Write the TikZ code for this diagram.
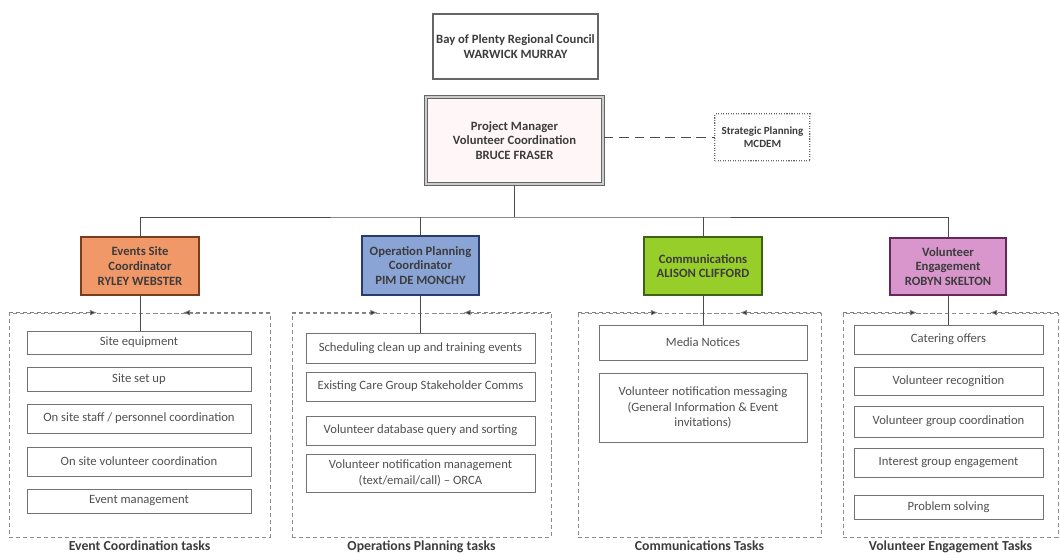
\documentclass[tikz,border=0pt]{standalone}
\usepackage{fontspec}
\setmainfont{Carlito}
\usetikzlibrary{arrows.meta,positioning,calc}
\definecolor{orgink}{RGB}{60,60,60}
\definecolor{taskink}{RGB}{80,80,80}
\definecolor{evfill}{RGB}{240,152,104}
\definecolor{evline}{RGB}{120,60,30}
\definecolor{opfill}{RGB}{138,164,214}
\definecolor{opline}{RGB}{40,60,110}
\definecolor{cmfill}{RGB}{152,206,42}
\definecolor{cmline}{RGB}{60,100,20}
\definecolor{vefill}{RGB}{216,150,204}
\definecolor{veline}{RGB}{100,40,90}
\tikzset{
  >=Latex,
  headbox/.style={
    rectangle, draw=black!60, line width=0.8pt, fill=white,
    align=center, inner sep=2pt, text=orgink,
    font=\fontsize{9}{10.5}\selectfont\bfseries
  },
  leadbox/.style={
    headbox, draw=evline, line width=1pt
  },
  taskbox/.style={
    rectangle, draw=black!55, line width=0.5pt, fill=white,
    align=center, inner sep=2pt, text=taskink,
    font=\fontsize{9}{11}\selectfont
  },
  group/.style={
    rectangle, draw=black!45, densely dashed, line width=0.5pt,
    inner sep=0pt
  },
  grouparrow/.style={-{Latex[length=5pt,width=4pt,fill=black!80]}, densely dashed, draw=black!50, line width=0.5pt},
  grouplabel/.style={
    inner sep=1pt, text=orgink, font=\fontsize{9.8}{11}\selectfont\bfseries
  },
  link/.style={draw=black!70, line width=0.7pt},
}
\begin{document}
\begin{tikzpicture}[x=0.025cm,y=-0.025cm]
\useasboundingbox (0,0) rectangle (1060,554);
% --- Top of the chart ---
\node[headbox, minimum width=4.125cm, minimum height=1.625cm] (bop) at (515.5,46.5)
  {Bay of Plenty Regional Council\\WARWICK MURRAY};
\node[headbox, double=black!20, double distance=0.8pt, fill=red!3,
  minimum width=4.425cm, minimum height=2.175cm] (pm) at (514.5,140.5)
  {Project Manager\\Volunteer Coordination\\BRUCE FRASER};
\node[headbox, densely dotted, double=black!20, double distance=0.6pt, line width=0.5pt,
  font=\fontsize{7.8}{9.5}\selectfont\bfseries,
  minimum width=2.375cm, minimum height=1.175cm] (sp) at (762.5,137.5)
  {Strategic Planning\\MCDEM};
% --- Coordinators ---
\node[leadbox, fill=evfill, draw=evline, minimum width=2.95cm, minimum height=1.45cm] (evc) at (140,266)
  {Events Site\\Coordinator\\RYLEY WEBSTER};
\node[leadbox, fill=opfill, draw=opline, minimum width=2.925cm, minimum height=1.475cm] (opc) at (420.5,265.5)
  {Operation Planning\\Coordinator\\PIM DE MONCHY};
\node[leadbox, fill=cmfill, draw=cmline, minimum width=2.95cm, minimum height=1.45cm] (cmc) at (703,266)
  {Communications\\ALISON CLIFFORD};
\node[leadbox, fill=vefill, draw=veline, minimum width=2.9cm, minimum height=1.425cm] (vec) at (948,266.5)
  {Volunteer\\Engagement\\ROBYN SKELTON};
% --- Task groups ---
\node[group, minimum width=6.525cm, minimum height=5.6cm] (evgrp) at (139.5,425) {};
\node[group, minimum width=6.475cm, minimum height=5.6cm] (opgrp) at (421.5,425) {};
\node[group, minimum width=6.075cm, minimum height=5.6cm] (cmgrp) at (699.5,425) {};
\node[group, minimum width=5.375cm, minimum height=5.6cm] (vegrp) at (950.5,425) {};
\node[grouplabel, below=1pt of evgrp] {Event Coordination tasks};
\node[grouplabel, below=1pt of opgrp] {Operations Planning tasks};
\node[grouplabel, below=1pt of cmgrp] {Communications Tasks};
\node[grouplabel, below=1pt of vegrp] {Volunteer Engagement Tasks};
% --- Event coordination tasks ---
\node[taskbox, minimum width=5.6cm, minimum height=0.575cm] (ev1) at (139,342.5) {Site equipment};
\node[taskbox, minimum width=5.6cm, minimum height=0.6cm] (ev2) at (139,379) {Site set up};
\node[taskbox, minimum width=5.6cm, minimum height=0.725cm] (ev3) at (139,418.5) {On site staff / personnel coordination};
\node[taskbox, minimum width=5.6cm, minimum height=0.725cm] (ev4) at (139,461.5) {On site volunteer coordination};
\node[taskbox, minimum width=5.6cm, minimum height=0.6cm] (ev5) at (139,501) {Event management};
% --- Operations planning tasks ---
\node[taskbox, minimum width=5.725cm, minimum height=0.75cm] (op1) at (420.5,348) {Scheduling clean up and training events};
\node[taskbox, minimum width=5.725cm, minimum height=0.725cm] (op2) at (420.5,386.5) {Existing Care Group Stakeholder Comms};
\node[taskbox, minimum width=5.725cm, minimum height=0.725cm] (op3) at (420.5,430.5) {Volunteer database query and sorting};
\node[taskbox, minimum width=5.725cm, minimum height=0.95cm] (op4) at (420.5,473)
  {Volunteer notification management\\(text/email/call) -- ORCA};
% --- Communications tasks ---
\node[taskbox, minimum width=5.2cm, minimum height=0.875cm] (cm1) at (703,342.5) {Media Notices};
\node[taskbox, minimum width=5.2cm, minimum height=1.725cm] (cm2) at (703,407.5)
  {Volunteer notification messaging\\(General Information \& Event\\invitations)};
% --- Volunteer engagement tasks ---
\node[taskbox, minimum width=4.725cm, minimum height=0.725cm] (ve1) at (948.5,339.5) {Catering offers};
\node[taskbox, minimum width=4.725cm, minimum height=0.7cm] (ve2) at (948.5,381) {Volunteer recognition};
\node[taskbox, minimum width=4.725cm, minimum height=0.775cm] (ve3) at (948.5,421.5) {Volunteer group coordination};
\node[taskbox, minimum width=4.725cm, minimum height=0.725cm] (ve4) at (948.5,462.5) {Interest group engagement};
\node[taskbox, minimum width=4.725cm, minimum height=0.6cm] (ve5) at (948.5,507) {Problem solving};
% --- Reporting lines ---
\coordinate (bar) at (517,217);
\draw[link] (pm.south) -- (pm.south |- bar);
\draw[link] (evc.north) |- (bar) -| (vec.north);
\draw[link] (opc.north) -- (opc.north |- bar);
\draw[link] (cmc.north) -- (cmc.north |- bar);
\draw[link, dash pattern=on 7pt off 4pt] (pm.east |- sp.west) -- (sp.west);
% coordinator down to its first task
\draw[link] (evc.south) -- (evc.south |- ev1.north);
\draw[link] (opc.south) -- (opc.south |- op1.north);
\draw[link] (cmc.south) -- (cmc.south |- cm1.north);
\draw[link] (vec.south) -- (vec.south |- ve1.north);
% dashed arrows along each group's top edge
\draw[grouparrow] (evgrp.north west) -- ($(evc.south |- evgrp.north)+(-43,0)$);
\draw[grouparrow] (evgrp.north east) -- ($(evc.south |- evgrp.north)+(43,0)$);
\draw[grouparrow] (opgrp.north west) -- ($(opc.south |- opgrp.north)+(-43,0)$);
\draw[grouparrow] (opgrp.north east) -- ($(opc.south |- opgrp.north)+(43,0)$);
\draw[grouparrow] (cmgrp.north west) -- ($(cmc.south |- cmgrp.north)+(-45,0)$);
\draw[grouparrow] (cmgrp.north east) -- ($(cmc.south |- cmgrp.north)+(37,0)$);
\draw[grouparrow] (vegrp.north west) -- ($(vec.south |- vegrp.north)+(-31,0)$);
\draw[grouparrow] (vegrp.north east) -- ($(vec.south |- vegrp.north)+(42,0)$);
\end{tikzpicture}
\end{document}
